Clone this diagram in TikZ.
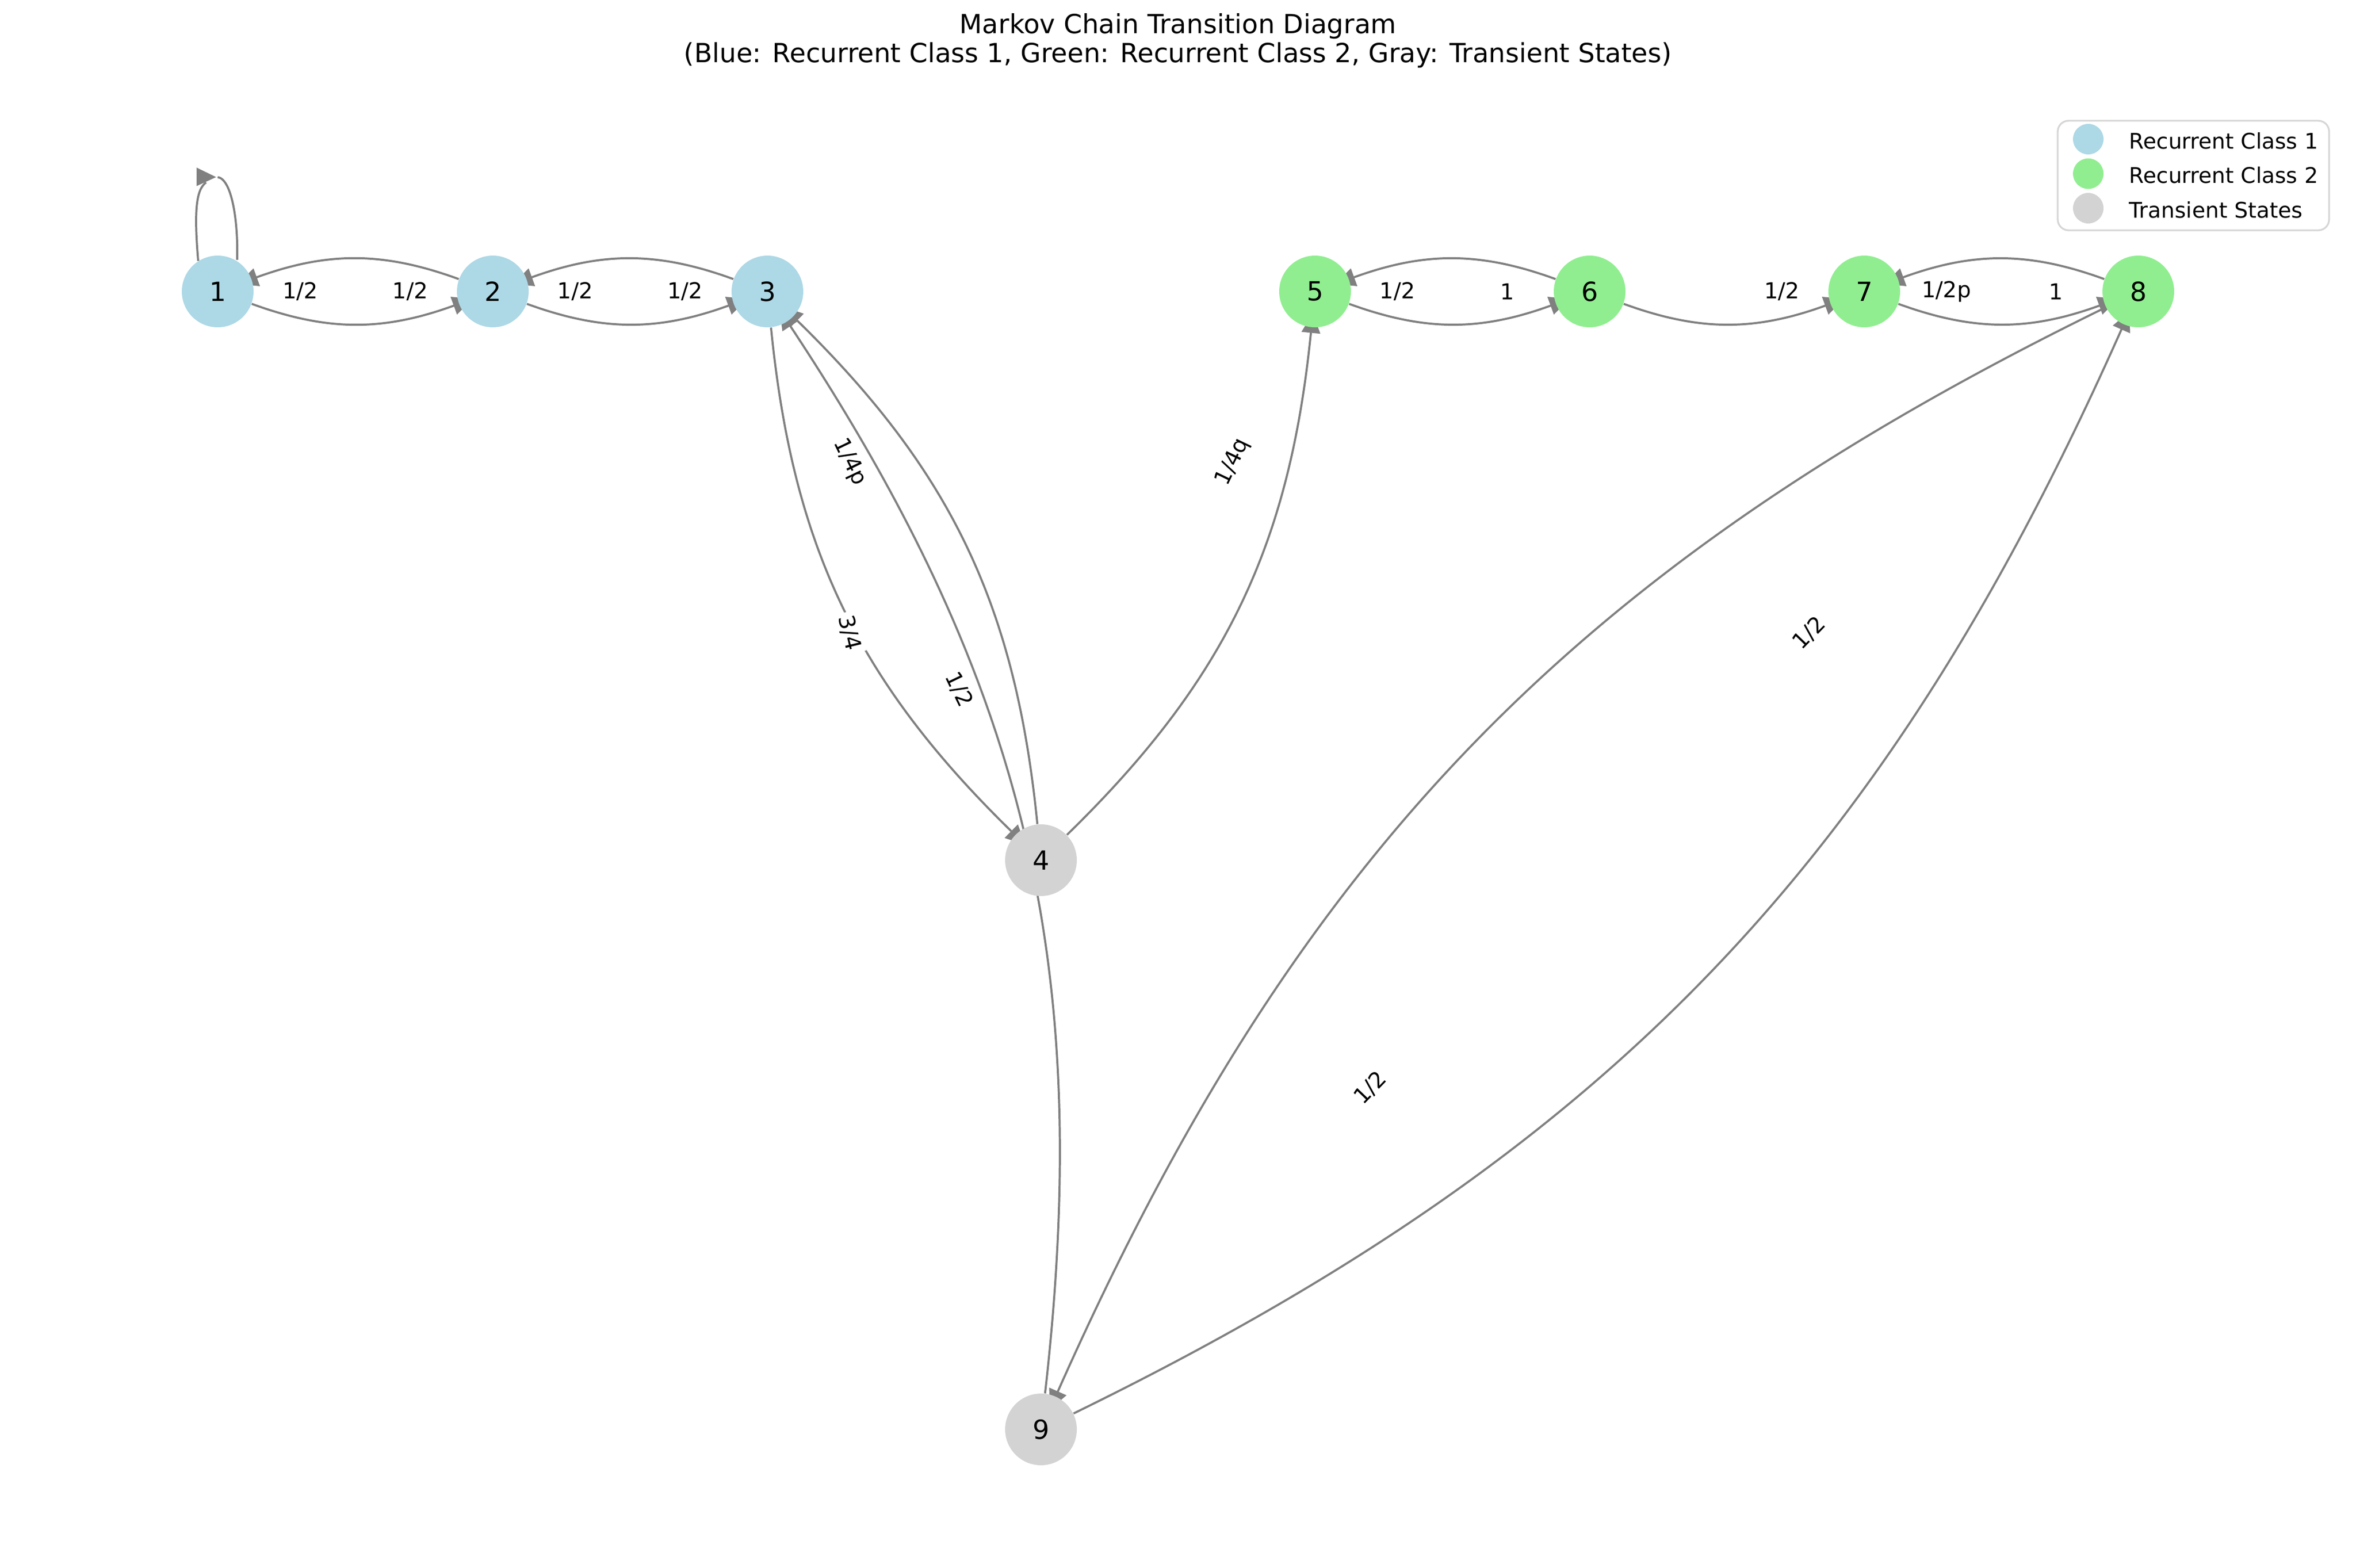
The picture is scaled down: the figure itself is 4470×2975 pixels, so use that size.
\documentclass[tikz,border=0pt]{standalone}
\usepackage{fontspec}
\setmainfont{DejaVu Sans}
\usetikzlibrary{arrows.meta,calc}
\pgfdeclarelayer{edgelayer}
\pgfsetlayers{edgelayer,main}
\definecolor{cblue}{HTML}{ADD8E6}
\definecolor{cgreen}{HTML}{90EE90}
\definecolor{cgray}{HTML}{D3D3D3}
\definecolor{cedge}{HTML}{808080}
\definecolor{cframe}{HTML}{D6D6D6}
\begin{document}
\begin{tikzpicture}[x=0.24pt,y=0.24pt,
  st/.style={circle,inner sep=0pt,minimum size=32.64pt,font=\fontsize{12}{14}\selectfont},
  rcone/.style={st,fill=cblue},
  rctwo/.style={st,fill=cgreen},
  trans/.style={st,fill=cgray},
  edgeline/.style={draw=cedge,line width=0.95pt},
  arr/.style={edgeline,-{Triangle[length=9pt,width=8.4pt]},shorten >=-6.6pt,bend right=20},
  lbl/.style={fill=white,inner sep=1.5pt,font=\fontsize{10}{12}\selectfont},
  legdot/.style={circle,inner sep=0pt,minimum size=13.9pt},
  legtext/.style={anchor=base west,inner sep=0pt,font=\fontsize{9.8}{12}\selectfont}]
\useasboundingbox (0,0) rectangle (4470,-2975);

% title
\node[align=center,font=\fontsize{12}{13.2}\selectfont] (title) at (2235,-77)
  {Markov Chain Transition Diagram\\(Blue: Recurrent Class 1, Green: Recurrent Class 2, Gray: Transient States)};

% states
\node[rcone] (n1) at (413,-553) {1};
\node[rcone] (n2) at (935,-553) {2};
\node[rcone] (n3) at (1456,-553) {3};
\node[trans] (n4) at (1975,-1632) {4};
\node[rctwo] (n5) at (2495,-553) {5};
\node[rctwo] (n6) at (3016,-553) {6};
\node[rctwo] (n7) at (3537,-553) {7};
\node[rctwo] (n8) at (4057,-553) {8};
\node[trans] (n9) at (1975,-2712) {9};

\begin{pgfonlayer}{edgelayer}
  % self loop on 1
  \draw[edgeline] ($(n1)+(-37,58)$) .. controls ($(n1)+(-45,153)$) and ($(n1)+(-41,193)$) .. ($(n1)+(-22,207)$);
  \draw[edgeline] ($(n1)+(0,217)$) .. controls ($(n1)+(27,213)$) and ($(n1)+(39,133)$) .. ($(n1)+(37,60)$);
  \fill[cedge] ($(n1)+(-40,235)$) -- ($(n1)+(-3,217)$) -- ($(n1)+(-40,200)$) -- cycle;
  % transitions
  \draw[arr] (n1) to (n2);
  \draw[arr] (n2) to (n1);
  \draw[arr] (n2) to (n3);
  \draw[arr] (n3) to (n2);
  \draw[arr] (n3) to (n4);
  \draw[arr] (n4) to (n3);
  \draw[arr] (n9) to (n3);
  \draw[arr] (n4) to (n5);
  \draw[arr] (n5) to (n6);
  \draw[arr] (n6) to (n5);
  \draw[arr] (n6) to (n7);
  \draw[arr] (n7) to (n8);
  \draw[arr] (n8) to (n7);
  \draw[arr] (n8) to (n9);
  \draw[arr] (n9) to (n8);
\end{pgfonlayer}

% edge labels
\node[lbl] (l21) at ($(n2)!0.7!(n1)$) {1/2};
\node[lbl] (l12) at ($(n1)!0.7!(n2)$) {1/2};
\node[lbl] (l32) at ($(n3)!0.7!(n2)$) {1/2};
\node[lbl] (l23) at ($(n2)!0.7!(n3)$) {1/2};
\node[lbl] (l65) at ($(n6)!0.7!(n5)$) {1/2};
\node[lbl] (l56) at ($(n5)!0.7!(n6)$) {1};
\node[lbl] (l67) at ($(n6)!0.7!(n7)$) {1/2};
\node[lbl] (l87) at ($(n8)!0.7!(n7)$) {1/2p};
\node[lbl] (l78) at ($(n7)!0.7!(n8)$) {1};
\node[lbl,rotate=-64.3] (l43) at ($(n4)!0.7!(n3)$) {1/4p};
\node[lbl,rotate=-64.3] (l34) at ($(n3)!0.7!(n4)$) {1/2};
\node[lbl,rotate=-76.5] (l93) at ($(n9)!0.7!(n3)$) {3/4};
\node[lbl,rotate=64.3] (l45) at ($(n4)!0.7!(n5)$) {1/4q};
\node[lbl,rotate=46.05] (l98) at ($(n9)!0.7!(n8)$) {1/2};
\node[lbl,rotate=46.05] (l89) at ($(n8)!0.7!(n9)$) {1/2};

% legend
\draw[cframe,line width=0.8pt,rounded corners=5pt,fill=white] (3904,-229) rectangle (4419,-437);
\node[legdot,fill=cblue] (d1) at (3962,-264) {};
\node[legdot,fill=cgreen] (d2) at (3962,-329.5) {};
\node[legdot,fill=cgray] (d3) at (3962,-395) {};
\node[legtext] (t1) at (4039,-282) {Recurrent Class 1};
\node[legtext] (t2) at (4039,-347.5) {Recurrent Class 2};
\node[legtext] (t3) at (4039,-413) {Transient States};
\end{tikzpicture}
\end{document}
